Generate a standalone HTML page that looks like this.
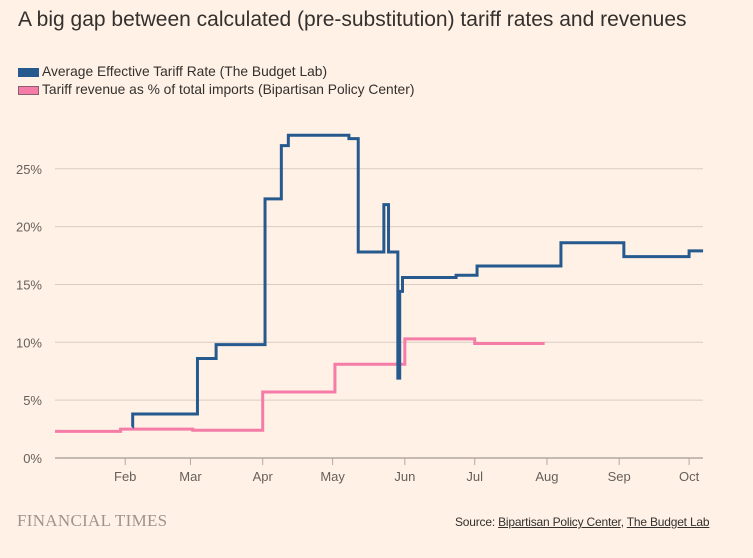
<!DOCTYPE html>
<html><head><meta charset="utf-8"><style>
html,body{margin:0;padding:0;background:#fff1e5;width:753px;height:558px;overflow:hidden}
body{font-family:"Liberation Sans",sans-serif;color:#33302e;position:relative}
.t{position:absolute;white-space:nowrap}
</style></head><body>
<div class="t" style="left:18px;top:8px;font-size:21px;color:#33302e">A big gap between calculated (pre-substitution) tariff rates and revenues</div>
<div class="t" style="left:18px;top:64px;font-size:13.8px;color:#33302e"><span style="display:inline-block;width:21px;height:9px;background:#265a8f;vertical-align:-1px;margin-right:3px"></span>Average Effective Tariff Rate (The Budget Lab)</div>
<div class="t" style="left:18px;top:82px;font-size:13.8px;color:#33302e"><span style="display:inline-block;width:19px;height:7px;background:#f47ca7;border:1px solid #8a6070;vertical-align:-1px;margin-right:3px"></span>Tariff revenue as % of total imports (Bipartisan Policy Center)</div>
<svg id="chart" width="753" height="558" style="position:absolute;left:0;top:0"></svg>
<div class="t" style="left:17px;top:511px;font-family:'Liberation Serif',serif;font-size:17px;color:#9e948c;letter-spacing:0.3px">FINANCIAL TIMES</div>
<div class="t" style="left:455px;top:515px;font-family:'Liberation Sans Narrow','Liberation Sans',sans-serif;font-size:12px;letter-spacing:-0.2px;color:#33302e">Source: <u>Bipartisan Policy Center</u>, <u>The Budget Lab</u></div>
<script>
const yTicks=[0,5,10,15,20,25];
const yTickLabels=["0%","5%","10%","15%","20%","25%"];
const monthDays=[31,59,90,120,151,181,212,243,273];
const monthLabels=["Feb","Mar","Apr","May","Jun","Jul","Aug","Sep","Oct"];
const rateDays=[34,34.2,62,70,91,98,101,127,131,142,144,148,148.8,150,173,182,218,245,273,279];
const rateValues=[2.7,3.8,8.6,9.8,22.4,27.0,27.9,27.6,17.8,21.9,17.8,6.9,14.4,15.6,15.8,16.6,18.6,17.4,17.9,17.9];
const revDays=[1,29,60,90,121,151,181,211];
const revValues=[2.3,2.5,2.4,5.7,8.1,10.3,9.9,9.9];
const NS="http://www.w3.org/2000/svg";
const svg=document.getElementById('chart');
const x=d=>53+d*2.33;
const y=v=>458-v*11.57;
const X0=55,X1=703;
function mk(t,a){const e=document.createElementNS(NS,t);for(const k in a)e.setAttribute(k,a[k]);svg.appendChild(e);return e;}
yTicks.forEach((v,i)=>{
  const l=mk('line',{x1:X0,x2:X1,y1:y(v),y2:y(v),stroke:v===0?'#b3a9a0':'#d9cdc3','stroke-width':v===0?1.5:1});
  
  
  const t=mk('text',{x:42,y:y(v)+5,'text-anchor':'end','font-size':13,fill:'#66605c','font-family':'Liberation Sans, sans-serif'});
  t.textContent=yTickLabels[i];
  
  
});
monthDays.forEach((d,i)=>{
  const l=mk('line',{x1:x(d),x2:x(d),y1:458,y2:465,stroke:'#b3a9a0','stroke-width':1});
  
  
  const t=mk('text',{x:x(d),y:481,'text-anchor':'middle','font-size':13,fill:'#66605c','font-family':'Liberation Sans, sans-serif'});
  t.textContent=monthLabels[i];
  
  
});
function step(days,vals,endX,startX){
  let p='M'+(startX!==undefined?startX:x(days[0]))+','+y(vals[0]);
  for(let i=1;i<days.length;i++){p+=' H'+x(days[i])+' V'+y(vals[i]);}
  if(endX!==undefined)p+=' H'+endX;
  return p;
}
const rev=mk('path',{d:step(revDays,revValues,undefined,X0),fill:'none',stroke:'#f47ca7','stroke-width':3});


const rate=mk('path',{d:step(rateDays,rateValues,X1),fill:'none',stroke:'#265a8f','stroke-width':3});


</script>
</body></html>
